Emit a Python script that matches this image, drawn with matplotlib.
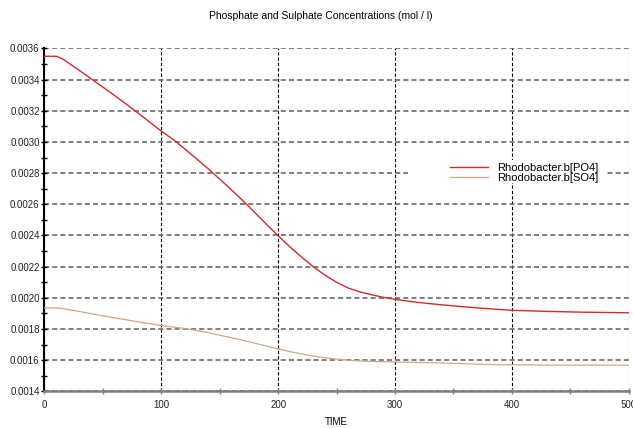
import matplotlib
matplotlib.use("Agg")
import matplotlib.pyplot as plt
from matplotlib.patches import Rectangle
from matplotlib.ticker import MultipleLocator, FormatStrFormatter

plt.rcParams['font.family'] = ['Liberation Sans', 'DejaVu Sans']

# Rhodobacter.b concentrations over time
t_po4 = [0, 10, 15, 20, 30, 40, 50, 60, 70, 80, 90, 100, 110, 120, 130, 140,
         150, 160, 170, 180, 190, 200, 210, 220, 230, 240, 250, 260, 270, 280,
         290, 300, 320, 340, 360, 380, 400, 430, 460, 500]
po4 = [0.003550, 0.003550, 0.003535, 0.003510, 0.003458, 0.003405, 0.003352,
       0.003298, 0.003243, 0.003186, 0.003128, 0.003070, 0.003017, 0.002956,
       0.002893, 0.002829, 0.002762, 0.002693, 0.002622, 0.002548, 0.002472,
       0.002398, 0.002328, 0.002262, 0.002200, 0.002146, 0.002100, 0.002063,
       0.002038, 0.002020, 0.002003, 0.001990, 0.001970, 0.001955, 0.001942,
       0.001930, 0.001920, 0.001913, 0.001908, 0.001904]

t_so4 = [0, 12, 20, 30, 40, 50, 60, 70, 80, 90, 100, 110, 120, 130, 140, 150,
         160, 170, 180, 190, 200, 210, 220, 230, 240, 250, 260, 270, 280, 300,
         340, 380, 420, 460, 500]
so4 = [0.001936, 0.001935, 0.001925, 0.001912, 0.001898, 0.001884, 0.001871,
       0.001859, 0.001846, 0.001834, 0.001822, 0.001813, 0.001803, 0.001791,
       0.001777, 0.001760, 0.001744, 0.001727, 0.001709, 0.001690, 0.001672,
       0.001655, 0.001640, 0.001626, 0.001615, 0.001607, 0.001600, 0.001595,
       0.001592, 0.001588, 0.001582, 0.001572, 0.001569, 0.001568, 0.001567]

fig = plt.figure(figsize=(6.33, 4.28), dpi=100)
ax = fig.add_axes([0.0703, 0.0857, 0.9227, 0.801])

ax.plot(t_po4, po4, color="#d42a2a", lw=1.0, label="Rhodobacter.b[PO4]", zorder=3)
ax.plot(t_so4, so4, color="#cfa888", lw=0.9, label="Rhodobacter.b[SO4]", zorder=3)

ax.set_xlim(0, 500)
ax.set_ylim(0.0014, 0.0036)
ax.xaxis.set_major_locator(MultipleLocator(100))
ax.xaxis.set_minor_locator(MultipleLocator(50))
ax.yaxis.set_major_locator(MultipleLocator(0.0002))
ax.yaxis.set_minor_locator(MultipleLocator(0.0001))
ax.yaxis.set_major_formatter(FormatStrFormatter('%.4f'))

ax.tick_params(axis='both', which='major', direction='inout', length=5,
               width=1, labelsize=7, colors='#222222')
ax.tick_params(axis='both', which='minor', direction='inout', length=4, width=1)
ax.tick_params(axis='x', which='both', color='#808080', pad=4)
ax.tick_params(axis='y', which='both', color='#000000', pad=1)

# grid: black fine dashes vertically, heavier grey dashes horizontally
ax.xaxis.grid(True, which='major', color='black', linestyle=(0, (3.0, 1.8)), lw=0.8)
ax.yaxis.grid(True, which='major', color='#6a6a6a', linestyle=(0, (3.0, 1.9)), lw=1.2)

for s in ('top', 'right'):
    ax.spines[s].set_visible(False)
ax.spines['left'].set_color('black')
ax.spines['left'].set_linewidth(1.5)
ax.spines['bottom'].set_color('#808080')
ax.spines['bottom'].set_linewidth(1.8)
ax.set_axisbelow(True)

ax.set_xlabel("TIME", fontsize=7, labelpad=5)
fig.suptitle("Phosphate and Sulphate Concentrations (mol / l)", fontsize=7.5,
             y=0.975, x=0.507)

# white box behind the legend hides the grid there
ax.add_patch(Rectangle((0.622, 0.608), 0.341, 0.067, transform=ax.transAxes,
                       facecolor='white', edgecolor='none', zorder=1))
leg = ax.legend(loc='upper left', bbox_to_anchor=(0.711, 0.619),
                bbox_transform=fig.transFigure, fontsize=8, frameon=False,
                handlelength=3.4, handletextpad=0.8, labelspacing=0.0,
                borderpad=0, borderaxespad=0)

fig.savefig("out.png", dpi=100)
